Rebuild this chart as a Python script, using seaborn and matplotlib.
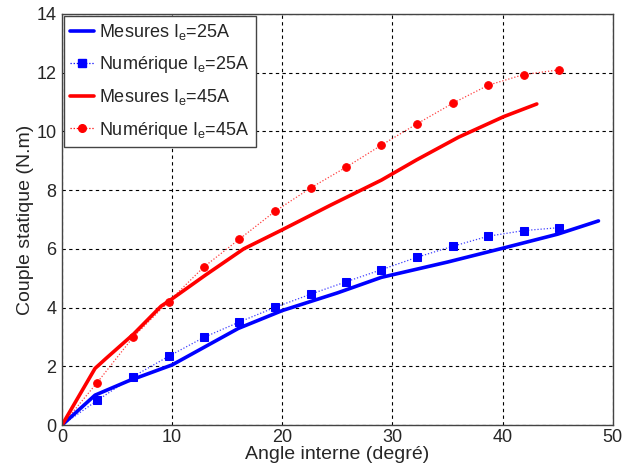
import numpy as np
import pandas as pd
import matplotlib
matplotlib.use("Agg")
import matplotlib.pyplot as plt
import seaborn as sns
from matplotlib.lines import Line2D

# Measured curves
mes25_x = [0, 3, 6, 10, 13, 16, 20, 25, 29, 35, 40, 45, 48.7]
mes25_y = [0, 1.02, 1.5, 2.05, 2.67, 3.29, 3.9, 4.5, 5.03, 5.55, 6.02, 6.5, 6.95]
mes45_x = [0, 3, 4, 6.5, 9, 10, 13, 16.5, 20, 24.4, 29, 32.2, 36, 40.1, 43.1]
mes45_y = [0, 1.93, 2.27, 3.1, 4.05, 4.3, 5.1, 6.0, 6.65, 7.49, 8.34, 9.03, 9.8, 10.5, 10.93]

# Numerical points
num_x = [0, 3.2, 6.45, 9.67, 12.9, 16.1, 19.35, 22.6, 25.8, 29.0, 32.2, 35.5, 38.7, 41.9, 45.1]
num25_y = [0, 0.84, 1.65, 2.34, 2.99, 3.51, 4.01, 4.46, 4.88, 5.29, 5.71, 6.09, 6.43, 6.62, 6.72]
num45_y = [0, 1.45, 2.99, 4.2, 5.39, 6.33, 7.28, 8.08, 8.78, 9.53, 10.25, 10.96, 11.57, 11.93, 12.09]

labels = ["Mesures I$_e$=25A", "Numérique I$_e$=25A", "Mesures I$_e$=45A", "Numérique I$_e$=45A"]

sns.set_style("white")
plt.rcParams['font.family'] = ['Liberation Sans', 'DejaVu Sans']
plt.rcParams['mathtext.default'] = 'regular'

fig = plt.figure(figsize=(6.39, 4.75), dpi=100)
ax = fig.add_axes([0.097, 0.105, 0.862, 0.866])

blue = (0, 0, 1)
red = (1, 0, 0)

# dotted connecting lines for numerical data
ax.plot(num_x, num25_y, color=blue, lw=0.9, ls=(0, (1, 1.5)), alpha=0.75)
ax.plot(num_x, num45_y, color=red, lw=0.9, ls=(0, (1, 1.5)), alpha=0.75)

sns.lineplot(x=mes25_x, y=mes25_y, ax=ax, color=blue, lw=2.6, sort=False)
sns.lineplot(x=num_x[1:], y=num25_y[1:], ax=ax, color=blue, lw=0, marker='s', markersize=5.5,
             markeredgecolor=blue, sort=False)
sns.lineplot(x=mes45_x, y=mes45_y, ax=ax, color=red, lw=2.6, sort=False)
sns.lineplot(x=num_x[1:], y=num45_y[1:], ax=ax, color=red, lw=0, marker='o', markersize=5.5,
             markeredgecolor=red, sort=False)

ax.set_xlim(0, 50)
ax.set_ylim(0, 14)
ax.set_xticks(range(0, 51, 10))
ax.set_yticks(range(0, 15, 2))
ax.grid(True, color='black', ls=(0, (3, 3)), lw=0.8)
ax.set_axisbelow(True)
ax.tick_params(direction='in', labelsize=13, length=4, color='black', colors='#262626')
ax.tick_params(axis='x', pad=3)
ax.tick_params(axis='y', pad=4)
for s in ax.spines.values():
    s.set_visible(True)
    s.set_color('#444444')
    s.set_linewidth(1.0)

ax.set_xlabel("Angle interne (degré)", fontsize=14, labelpad=0)
ax.set_ylabel("Couple statique (N.m)", fontsize=14, labelpad=2)

handles = [
    Line2D([], [], color=blue, lw=2.6),
    Line2D([], [], color=blue, lw=0.9, ls=(0, (1, 1.5)), marker='s', markersize=5.5),
    Line2D([], [], color=red, lw=2.6),
    Line2D([], [], color=red, lw=0.9, ls=(0, (1, 1.5)), marker='o', markersize=5.5),
]
leg = ax.legend(handles, labels, loc='upper left', fontsize=13, frameon=True, fancybox=False,
                borderaxespad=0.1, handlelength=1.3, handletextpad=0.3, labelspacing=0.68,
                borderpad=0.35)
leg.get_frame().set_edgecolor('#444444')
leg.get_frame().set_linewidth(1.0)
leg.get_frame().set_alpha(1)

fig.savefig("out.png", dpi=100)
